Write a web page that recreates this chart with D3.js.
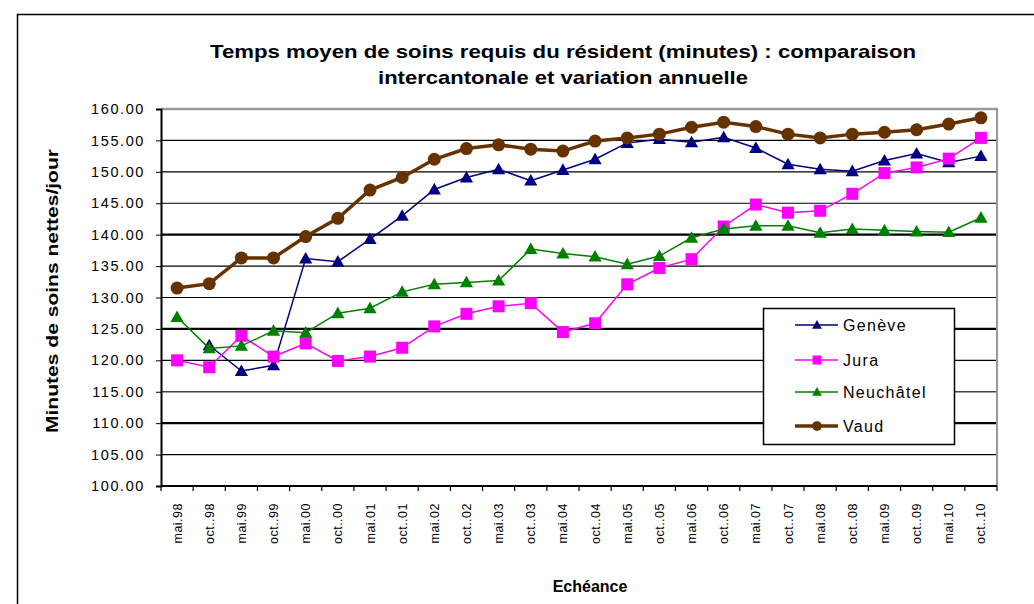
<!DOCTYPE html>
<html><head><meta charset="utf-8">
<script src="https://cdn.jsdelivr.net/npm/d3@7"></script>
<style>
body{margin:0;background:#fff;}
svg{font-family:"Liberation Sans",Arial,sans-serif;}
</style></head>
<body><svg id="c" width="1034" height="604"></svg>
<script>
const categories = ["mai.98","oct..98","mai.99","oct..99","mai.00","oct..00","mai.01","oct..01","mai.02","oct..02","mai.03","oct..03","mai.04","oct..04","mai.05","oct..05","mai.06","oct..06","mai.07","oct..07","mai.08","oct..08","mai.09","oct..09","mai.10","oct..10"];
const geneve = [null,122.4,118.3,119.2,136.2,135.7,139.3,143.0,147.2,149.1,150.4,148.6,150.3,152.0,154.6,155.2,154.7,155.5,153.8,151.2,150.4,150.1,151.8,152.9,151.5,152.5];
const jura = [120.0,118.9,123.9,120.6,122.7,119.9,120.6,122.0,125.4,127.4,128.6,129.1,124.5,125.9,132.1,134.7,136.1,141.3,144.8,143.5,143.8,146.5,149.8,150.7,152.1,155.4];
const neuchatel = [126.9,121.9,122.3,124.7,124.4,127.5,128.3,130.9,132.1,132.4,132.7,137.7,137.0,136.5,135.3,136.6,139.5,140.9,141.4,141.4,140.3,140.9,140.7,140.5,140.4,142.7];
const vaud = [131.5,132.2,136.3,136.3,139.7,142.6,147.1,149.1,152.0,153.7,154.3,153.6,153.3,154.9,155.4,156.0,157.1,157.9,157.2,156.0,155.4,156.0,156.3,156.7,157.6,158.6];
const yTicks = [100,105,110,115,120,125,130,135,140,145,150,155,160];

const series = [
  {name:"Genève", values:geneve, color:"#000080", width:1.5, marker:"triangle", size:11},
  {name:"Jura", values:jura, color:"#ff00ff", width:1.5, marker:"square", size:12},
  {name:"Neuchâtel", values:neuchatel, color:"#008000", width:1.5, marker:"triangle", size:11},
  {name:"Vaud", values:vaud, color:"#663300", width:3.5, marker:"circle", size:6.5}
];

const svg = d3.select("#c");
const L=161, R=997, T=109, B=486;
svg.append("path").attr("d","M17.5,604 L17.5,14.5 L1034,14.5").attr("fill","none").attr("stroke","#000").attr("stroke-width",1.5);

const x = d3.scaleBand().domain(categories).range([L,R]).padding(0);
const y = d3.scaleLinear().domain([100,160]).range([B,T]);

const g = svg.append("g");
yTicks.forEach(v=>{
  if(v===100) return;
  let sw=1.2, col="#000";
  if(v===160){sw=2.5; col="#999";}
  else if(v===140||v===125||v===110){sw=2.2;}
  else if(v===115){col="#444";sw=1.5;}
  g.append("line").attr("x1",L).attr("x2",R).attr("y1",y(v)).attr("y2",y(v)).attr("stroke",col).attr("stroke-width",sw);
});
svg.append("line").attr("x1",R).attr("x2",R).attr("y1",T-1).attr("y2",B).attr("stroke","#999").attr("stroke-width",2);

const yAxis = d3.axisLeft(y).tickValues(yTicks).tickFormat(d3.format(".2f")).tickSize(5).tickPadding(11);
const ya = svg.append("g").attr("transform",`translate(${L},0)`).call(yAxis);
ya.select(".domain").attr("stroke","#000").attr("stroke-width",2);
ya.selectAll(".tick line").attr("stroke","#000");
ya.selectAll("text").attr("font-size",14.5).attr("fill","#000").attr("letter-spacing",1.6).attr("font-family","Liberation Sans, Arial, sans-serif");

const xa = svg.append("g").attr("transform",`translate(0,${B})`);
xa.append("line").attr("x1",L).attr("x2",R).attr("stroke","#000").attr("stroke-width",2);
const bounds = d3.range(categories.length+1).map(i=>L + i*x.bandwidth());
xa.selectAll("line.t").data(bounds).enter().append("line").attr("class","t")
  .attr("x1",d=>d).attr("x2",d=>d).attr("y1",0).attr("y2",5).attr("stroke","#000").attr("stroke-width",1.2);
xa.selectAll("text").data(categories).enter().append("text")
  .attr("transform",d=>`translate(${x(d)+x.bandwidth()/2+4.5},${17}) rotate(-90)`)
  .attr("text-anchor","end").attr("font-size",12.5).attr("letter-spacing",0.5).attr("fill","#000").text(d=>d);

const cx = d=>x(d)+x.bandwidth()/2;
function drawMarker(sel, s, px, py, scale){
  const k = scale||1;
  if(s.marker==="triangle"){
    const h=s.size*k;
    sel.append("path").attr("d",`M${px},${py-h*0.6} L${px+h*0.6},${py+h*0.45} L${px-h*0.6},${py+h*0.45} Z`).attr("fill",s.color);
  } else if(s.marker==="square"){
    const a=s.size*k;
    sel.append("rect").attr("x",px-a/2).attr("y",py-a/2).attr("width",a).attr("height",a).attr("fill",s.color);
  } else {
    sel.append("circle").attr("cx",px).attr("cy",py).attr("r",s.size*k).attr("fill",s.color);
  }
}
series.forEach(s=>{
  const line = d3.line().defined(d=>d.v!=null).x(d=>cx(d.c)).y(d=>y(d.v));
  const data = categories.map((c,i)=>({c, v:s.values[i]}));
  svg.append("path").datum(data).attr("d",line).attr("fill","none").attr("stroke",s.color).attr("stroke-width",s.width);
  const mg = svg.append("g");
  data.filter(d=>d.v!=null).forEach(d=>drawMarker(mg,s,cx(d.c),y(d.v)));
});

const lg = svg.append("g");
lg.append("rect").attr("x",763.5).attr("y",308.5).attr("width",191).attr("height",136).attr("fill","#fff").attr("stroke","#000").attr("stroke-width",1.5);
const ly=[325,360,392,426];
series.forEach((s,i)=>{
  lg.append("line").attr("x1",795).attr("x2",838).attr("y1",ly[i]).attr("y2",ly[i]).attr("stroke",s.color).attr("stroke-width",s.width);
  drawMarker(lg,s,817,ly[i],0.75);
  lg.append("text").attr("x",843).attr("y",ly[i]+5.5).attr("font-size",16).attr("fill","#000").attr("letter-spacing",1.3).text(s.name);
});

svg.append("text").attr("x",563).attr("y",58).attr("text-anchor","middle").attr("font-weight","bold").attr("font-size",19)
  .attr("textLength",706).attr("lengthAdjust","spacingAndGlyphs").text("Temps moyen de soins requis du résident (minutes) : comparaison");
svg.append("text").attr("x",563).attr("y",84).attr("text-anchor","middle").attr("font-weight","bold").attr("font-size",19)
  .attr("textLength",370).attr("lengthAdjust","spacingAndGlyphs").text("intercantonale et variation  annuelle");
svg.append("text").attr("transform","translate(58,291) rotate(-90)").attr("text-anchor","middle").attr("font-weight","bold").attr("font-size",17)
  .attr("textLength",284).attr("lengthAdjust","spacingAndGlyphs").text("Minutes de soins nettes/jour");
svg.append("text").attr("x",590).attr("y",592).attr("text-anchor","middle").attr("font-weight","bold").attr("font-size",16).text("Echéance");
</script></body></html>
